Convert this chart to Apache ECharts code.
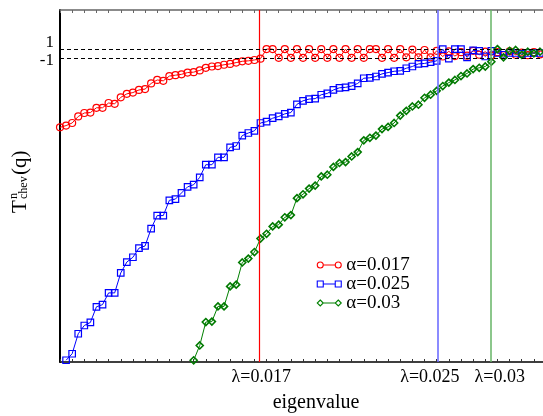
<!DOCTYPE html>
<html>
<head>
<meta charset="utf-8">
<script src="https://cdn.jsdelivr.net/npm/echarts@6/dist/echarts.min.js"></script>
<style>
  html, body { margin: 0; padding: 0; background: #fff; }
  #chart { width: 543px; height: 416px; }
</style>
</head>
<body>
<div id="chart"></div>
<script>
// Chebyshev filter response, sorted by eigenvalue index
const seriesNames = ['α=0.017', 'α=0.025', 'α=0.03'];
const lambdaLabels = ['λ=0.017', 'λ=0.025', 'λ=0.03'];
const lambdaIndex = [32.8, 62.2, 70.9];
const yTickValues = [1, -1];
const yTickLabels = ['1', '-1'];

const redValues = [
  -17.0, -16.6, -16.0, -14.5, -13.7, -13.6, -12.5, -12.5, -11.4, -11.6,
  -10.1, -9.3, -9.0, -8.4, -8.2, -6.9, -6.1, -6.3, -5.2, -5.0,
  -4.8, -4.4, -4.3, -3.9, -3.3, -3.0, -2.9, -2.6, -2.4, -2.1,
  -1.8, -1.7, -1.5, -1.2,
  1.0, 1.0, -1.0, 1.0, -1.0, 1.0, -1.0, 1.0, -1.0, 1.0,
  -1.0, 1.0, -1.0, 1.0, -1.0, 1.0, -1.0,
  1.0, 1.0, -1.0, 1.0, -1.0, 1.0,
  -0.9, 0.9, -0.9, 0.8, -0.9, 0.6, -0.7, 0.5, -0.6, 0.3,
  -0.5, 0.6, -0.3, 0.4, -0.5, 0.3, -0.4, 0.5, -0.3, 0.2,
  -0.4, 0.3, -0.2
];

const blueValues = [
  null,
  -70.6, -69.1, -64.5, -62.6, -61.9, -58.3, -57.8, -55.1, -55.1, -50.5,
  -48.0, -46.9, -44.8, -44.3, -40.3, -37.3, -37.3, -33.8, -33.5, -32.1,
  -30.7, -30.2, -28.5, -25.6, -25.6, -23.9, -23.9, -21.6, -21.3, -18.9,
  -18.3, -17.8, -16.0, -15.7, -14.9, -14.5, -13.9, -13.6, -11.7, -10.9,
  -10.5, -10.4, -9.5, -9.2, -8.4, -7.9, -7.8, -7.5, -6.9, -5.7,
  -5.6, -5.3, -4.7, -4.4, -4.1, -4.0, -3.4, -3.0, -2.4, -2.3,
  -2.0, -1.7, 1.0, -1.2, 1.0, 1.0, -0.9, 0.7, 0.6, -0.7,
  0.6, 0.1, -0.3, 0.1, 0.1, -0.1, 0.1, 0.1, 0.1
];

const greenValues = [
  null, null, null, null, null, null, null, null, null, null, null,
  null, null, null, null, null, null, null, null, null, null, null,
  -70.6, -67.2, -61.8, -61.7, -58.2, -58.2, -53.6, -53.2, -48.1, -47.2,
  -45.7, -42.6, -41.5, -39.8, -39.4, -37.7, -37.2, -33.3, -32.4, -31.1,
  -30.4, -28.3, -27.9, -26.1, -25.2, -25.0, -23.7, -22.7, -20.0, -19.4,
  -18.9, -17.4, -16.9, -16.0, -14.3, -13.2, -12.2, -11.8, -10.2, -9.5,
  -8.6, -7.5, -6.7, -6.1, -5.2, -4.6, -3.6, -3.3, -3.0, -1.9,
  1.0, -0.9, 0.6, 0.8, -0.3, 0.4, 0.0, 0.4
];

const SERIF = '"Liberation Serif", "Times New Roman", "DejaVu Serif", serif';
const colors = ['#ff0000', '#0000ff', '#008000'];
const markerColors = ['#ff0000', '#0000ff', '#007a00'];
const vlineColors = ['#ff0000', '#6464ff', '#66b466'];
const symbols = ['circle', 'rect', 'diamond'];
const symbolSizes = [7, 6.5, 7];
const labelShift = [2, -8, 9];
const legendIcons = [
  'path://M0,3a3,3 0 1,0 6,0a3,3 0 1,0 -6,0M6,3L18,3M18,3a3,3 0 1,0 6,0a3,3 0 1,0 -6,0',
  'path://M0,0H6V6H0ZM6,3H18M18,0H24V6H18Z',
  'path://M3,0L6,3L3,6L0,3ZM6,3H18M21,0L24,3L21,6L18,3Z'
];
const allValues = [redValues, blueValues, greenValues];

function toPoints(values) {
  return values.map((v, i) => [i, v]);
}

const series = allValues.map((values, k) => {
  const markData = [{
    xAxis: lambdaIndex[k],
    lineStyle: { color: vlineColors[k], width: k === 0 ? 1.2 : 1.5, type: 'solid' },
    label: {
      show: true, position: 'start', formatter: lambdaLabels[k],
      color: '#000', fontFamily: SERIF, fontSize: 18, distance: 6,
      offset: [labelShift[k], 0]
    }
  }];
  if (k === 0) {
    yTickValues.forEach(v => markData.push({
      yAxis: v,
      lineStyle: { color: '#000', width: 1, type: [4, 3] },
      label: { show: false }
    }));
  }
  return {
    name: seriesNames[k],
    type: 'line',
    data: toPoints(values),
    symbol: symbols[k],
    symbolSize: symbolSizes[k],
    showAllSymbol: true,
    lineStyle: { color: colors[k], width: 1 },
    itemStyle: { color: 'rgba(255,255,255,0)', borderColor: markerColors[k], borderWidth: k === 2 ? 1.6 : 1.2 },
    emphasis: { disabled: true },
    animation: false,
    markLine: {
      silent: true,
      symbol: ['none', 'none'],
      animation: false,
      data: markData
    }
  };
});

const chart = echarts.init(document.getElementById('chart'), null, { renderer: 'canvas' });
chart.setOption({
  backgroundColor: '#fff',
  animation: false,
  grid: { left: 60, top: 10, right: 0, bottom: 54, containLabel: false },
  xAxis: [{
    type: 'value', min: 0, max: 79.5, interval: 2,
    axisLine: { onZero: false, lineStyle: { color: '#000', width: 1.5 } },
    axisTick: { inside: true, length: 3, lineStyle: { color: '#333' } },
    axisLabel: { show: false },
    splitLine: { show: false }
  }, {
    type: 'value', position: 'top', min: 0, max: 79.5, interval: 2,
    axisLine: { onZero: false, lineStyle: { color: '#666', width: 1.5 } },
    axisTick: { inside: true, length: 3, lineStyle: { color: '#666' } },
    axisLabel: { show: false },
    splitLine: { show: false }
  }],
  yAxis: {
    type: 'value', min: -71, max: 10, interval: 2,
    axisLine: { show: true, onZero: false, lineStyle: { color: '#000', width: 2 } },
    axisTick: { show: false },
    splitLine: { show: false },
    axisLabel: {
      color: '#000', fontFamily: SERIF, fontSize: 17, margin: 6,
      formatter: v => {
        const i = yTickValues.indexOf(v);
        if (i < 0) return '';
        return (v > 0 ? '{up|' : '{dn|') + yTickLabels[i] + '}';
      },
      rich: {
        up: { fontFamily: SERIF, fontSize: 17, color: '#000', padding: [0, 0, 13, 0] },
        dn: { fontFamily: SERIF, fontSize: 17, color: '#000', padding: [6, 0, 0, 0] }
      }
    }
  },
  legend: {
    orient: 'vertical', left: 311.7, top: 250.5,
    itemWidth: 24, itemHeight: 6, itemGap: 0,
    selectedMode: false,
    textStyle: { fontFamily: SERIF, fontSize: 19, lineHeight: 18.5, color: '#000' },
    data: seriesNames.map((n, k) => ({
      name: n, icon: legendIcons[k],
      itemStyle: { color: 'rgba(0,0,0,0)', borderColor: colors[k], borderWidth: 1.1 }
    }))
  },
  graphic: [{
    type: 'group', x: 20.5, y: 213, rotation: Math.PI / 2, silent: true,
    children: [
      { type: 'text', x: 0, y: 0, style: { text: 'T', font: '21px ' + SERIF, fill: '#000', textAlign: 'left', textVerticalAlign: 'middle' } },
      { type: 'text', x: 14, y: -6.5, style: { text: 'n', font: '12px ' + SERIF, fill: '#000', textAlign: 'left', textVerticalAlign: 'middle' } },
      { type: 'text', x: 14, y: 3.3, style: { text: 'chev', font: '12px ' + SERIF, fill: '#000', textAlign: 'left', textVerticalAlign: 'middle' } },
      { type: 'text', x: 38, y: 0, style: { text: '(q)', font: '21px ' + SERIF, fill: '#000', textAlign: 'left', textVerticalAlign: 'middle' } }
    ]
  }, {
    type: 'text', x: 316, y: 403, silent: true,
    style: { text: 'eigenvalue', font: '20px ' + SERIF, fill: '#000', textAlign: 'center', textVerticalAlign: 'middle' }
  }],
  series: series
});
</script>
</body>
</html>
